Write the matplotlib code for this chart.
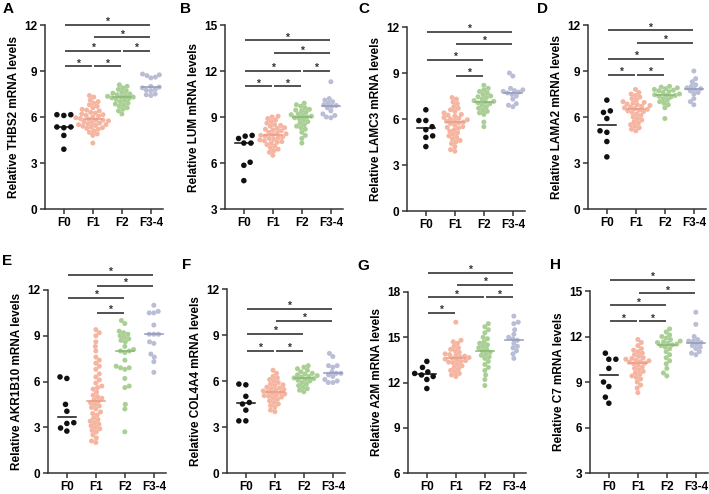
import matplotlib
matplotlib.use('Agg')
import matplotlib.pyplot as plt
import numpy as np

plt.rcParams['font.family'] = ['Liberation Sans', 'DejaVu Sans']
plt.rcParams['font.weight'] = 'bold'

groups = ['F0', 'F1', 'F2', 'F3-4']

# values (estimated)
thbs2_f0 = [6.15, 6.1, 6.15, 5.35, 5.3, 5.35, 4.8, 3.9]
thbs2_f1 = [7.4, 7.3, 7.1, 7.0, 6.9, 6.8, 6.7, 6.6, 6.5, 6.45, 6.4, 6.3, 6.25, 6.2, 6.15, 6.1, 6.05, 6.0,
            5.95, 5.9, 5.85, 5.8, 5.8, 5.75, 5.7, 5.65, 5.6, 5.55, 5.5, 5.5, 5.45, 5.4, 5.35, 5.3, 5.25,
            5.2, 5.1, 5.0, 4.9, 4.8, 4.3]
thbs2_f2 = [8.1, 8.0, 7.9, 7.8, 7.7, 7.6, 7.55, 7.5, 7.45, 7.4, 7.35, 7.3, 7.3, 7.25, 7.2, 7.15, 7.1,
            7.0, 6.9, 6.85, 6.8, 6.7, 6.6, 6.5, 6.4, 6.2]
thbs2_f34 = [8.8, 8.75, 8.7, 8.6, 8.55, 8.0, 7.95, 7.9, 7.8, 7.75, 7.7, 7.5, 7.45, 7.4]

lum_f0 = [7.8, 7.75, 7.6, 7.3, 7.3, 6.05, 5.85, 4.85]
lum_f1 = [9.05, 9.0, 8.9, 8.8, 8.7, 8.6, 8.5, 8.45, 8.4, 8.3, 8.25, 8.2, 8.15, 8.1, 8.0, 7.95, 7.9,
          7.85, 7.8, 7.75, 7.7, 7.65, 7.6, 7.55, 7.5, 7.45, 7.4, 7.35, 7.3, 7.2, 7.1, 7.0, 6.9, 6.8,
          6.7, 6.5]
lum_f2 = [9.9, 9.8, 9.7, 9.6, 9.5, 9.45, 9.4, 9.3, 9.2, 9.15, 9.1, 9.05, 9.0, 8.95, 8.9, 8.8, 8.7,
          8.6, 8.5, 8.4, 8.3, 8.2, 8.0, 7.8, 7.6, 7.3]
lum_f34 = [11.3, 10.2, 10.1, 10.0, 9.9, 9.8, 9.75, 9.7, 9.6, 9.4, 9.2, 9.1, 9.0, 8.95]

lamc3_f0 = [6.6, 5.9, 5.9, 5.5, 5.3, 4.9, 4.8, 4.2]
lamc3_f1 = [7.4, 7.3, 7.1, 7.0, 6.8, 6.7, 6.6, 6.5, 6.4, 6.3, 6.25, 6.2, 6.1, 6.05, 6.0, 5.95, 5.9,
            5.85, 5.8, 5.75, 5.7, 5.6, 5.5, 5.45, 5.4, 5.3, 5.2, 5.1, 5.0, 4.9, 4.8, 4.7, 4.6, 4.5,
            4.4, 4.2, 4.0, 3.9]
lamc3_f2 = [8.2, 8.0, 7.9, 7.8, 7.7, 7.6, 7.5, 7.45, 7.4, 7.3, 7.2, 7.15, 7.1, 7.05, 7.0, 6.9, 6.8,
            6.7, 6.6, 6.5, 6.4, 6.3, 5.8, 5.5]
lamc3_f34 = [9.0, 8.8, 8.0, 7.9, 7.85, 7.8, 7.75, 7.7, 7.6, 7.5, 7.3, 7.0, 6.9, 6.8]

lama2_f0 = [7.1, 6.4, 6.3, 5.9, 5.1, 5.0, 4.4, 3.4]
lama2_f1 = [7.8, 7.6, 7.5, 7.4, 7.3, 7.2, 7.1, 7.0, 6.95, 6.9, 6.85, 6.8, 6.75, 6.7, 6.65, 6.6, 6.55,
            6.5, 6.45, 6.4, 6.35, 6.3, 6.2, 6.1, 6.0, 5.9, 5.8, 5.7, 5.6, 5.5, 5.4, 5.3, 5.2, 5.1]
lama2_f2 = [8.0, 7.95, 7.9, 7.85, 7.8, 7.75, 7.7, 7.65, 7.6, 7.5, 7.45, 7.4, 7.4, 7.35, 7.3, 7.2,
            7.1, 7.0, 6.9, 6.8, 6.6, 5.9]
lama2_f34 = [9.0, 8.5, 8.3, 8.1, 8.0, 7.9, 7.85, 7.8, 7.7, 7.6, 7.5, 7.2, 7.0, 6.8]

akr_f0 = [6.2, 6.3, 4.5, 4.05, 3.25, 3.3, 2.75, 2.95]
akr_f1 = [9.4, 9.2, 9.0, 8.6, 8.3, 8.0, 7.6, 7.4, 7.2, 7.0, 6.8, 6.5, 6.3, 6.1, 5.9, 5.7, 5.6, 5.5,
          5.3, 5.1, 5.0, 4.9, 4.8, 4.7, 4.6, 4.5, 4.4, 4.3, 4.2, 4.0, 3.9, 3.8, 3.6, 3.5, 3.4, 3.3,
          3.2, 3.1, 3.0, 2.9, 2.8, 2.7, 2.5, 2.3, 2.1, 2.0]
akr_f2 = [10.0, 9.8, 9.3, 9.2, 9.1, 9.0, 8.9, 8.8, 8.7, 8.6, 8.3, 8.1, 8.0, 8.0, 7.9, 7.4, 7.0, 6.9,
          6.9, 6.8, 6.2, 5.7, 5.6, 4.5, 4.2, 2.7]
akr_f34 = [11.0, 10.6, 10.5, 10.5, 9.7, 9.1, 9.1, 9.1, 8.6, 8.5, 7.8, 7.6, 7.3, 6.6]

col_f0 = [5.75, 5.8, 5.0, 4.6, 4.5, 4.1, 3.4, 3.4]
col_f1 = [6.7, 6.5, 6.3, 6.2, 6.1, 6.0, 5.9, 5.8, 5.75, 5.7, 5.6, 5.55, 5.5, 5.45, 5.4, 5.35, 5.3,
          5.25, 5.2, 5.15, 5.1, 5.05, 5.0, 4.95, 4.9, 4.8, 4.7, 4.6, 4.5, 4.4, 4.3, 4.1, 4.0]
col_f2 = [7.0, 6.9, 6.8, 6.7, 6.6, 6.5, 6.45, 6.4, 6.35, 6.3, 6.25, 6.2, 6.15, 6.1, 6.05, 6.0, 5.9,
          5.8, 5.7, 5.6, 5.5, 5.4, 5.3]
col_f34 = [7.8, 7.6, 7.0, 7.0, 6.9, 6.6, 6.5, 6.5, 6.4, 6.3, 6.1, 6.0, 5.9, 5.9]

a2m_f0 = [13.4, 13.0, 12.7, 12.6, 12.5, 12.4, 12.2, 11.6]
a2m_f1 = [16.0, 14.8, 14.7, 14.6, 14.4, 14.3, 14.2, 14.1, 14.0, 13.9, 13.85, 13.8, 13.75, 13.7,
          13.65, 13.6, 13.55, 13.5, 13.45, 13.4, 13.35, 13.3, 13.2, 13.1, 13.0, 12.9, 12.8, 12.7,
          12.6, 12.5, 12.4]
a2m_f2 = [15.9, 15.7, 15.5, 15.3, 15.0, 14.9, 14.7, 14.6, 14.5, 14.4, 14.3, 14.2, 14.1, 14.0, 13.9,
          13.8, 13.7, 13.6, 13.4, 13.2, 13.0, 12.8, 12.5, 12.2, 11.8]
a2m_f34 = [16.4, 16.0, 15.9, 15.5, 15.2, 15.0, 14.9, 14.8, 14.6, 14.4, 14.3, 14.1, 13.9, 13.6]

c7_f0 = [10.9, 10.5, 10.5, 9.9, 9.0, 8.7, 8.0, 7.6]
c7_f1 = [11.8, 11.6, 11.4, 11.2, 11.1, 11.0, 10.9, 10.8, 10.7, 10.6, 10.55, 10.5, 10.45, 10.4, 10.35,
         10.3, 10.25, 10.2, 10.1, 10.0, 9.9, 9.8, 9.7, 9.6, 9.5, 9.4, 9.3, 9.2, 9.0, 8.8, 8.6, 8.3]
c7_f2 = [12.5, 12.3, 12.1, 12.0, 11.9, 11.8, 11.7, 11.65, 11.6, 11.55, 11.5, 11.45, 11.4, 11.3, 11.2,
         11.0, 10.8, 10.6, 10.4, 10.2, 9.9, 9.6, 9.4]
c7_f34 = [13.6, 12.8, 12.0, 11.8, 11.7, 11.7, 11.6, 11.5, 11.4, 11.3, 11.2, 11.0, 10.9, 10.8]

# significance bars: (group i, group j, height)
thbs2_sig = [(0, 1, 9.3), (1, 2, 9.3), (0, 2, 10.3), (2, 3, 10.3), (1, 3, 11.2), (0, 3, 12.0)]
lum_sig = [(0, 1, 11.0), (1, 2, 11.0), (0, 2, 12.0), (2, 3, 12.0), (1, 3, 13.15), (0, 3, 14.0)]
lamc3_sig = [(1, 2, 8.8), (0, 2, 9.85), (1, 3, 10.9), (0, 3, 11.7)]
lama2_sig = [(0, 1, 8.75), (1, 2, 8.75), (0, 2, 9.8), (1, 3, 10.85), (0, 3, 11.65)]
akr_sig = [(1, 2, 10.5), (0, 2, 11.5), (1, 3, 12.25), (0, 3, 13.0)]
col_sig = [(0, 1, 7.95), (1, 2, 7.95), (0, 2, 9.05), (1, 3, 9.9), (0, 3, 10.7)]
a2m_sig = [(0, 1, 16.6), (0, 2, 17.65), (2, 3, 17.65), (1, 3, 18.45), (0, 3, 19.25)]
c7_sig = [(0, 1, 13.0), (1, 2, 13.0), (0, 2, 14.05), (1, 3, 14.85), (0, 3, 15.75)]

panels = [
    ('A', 'THBS2', [thbs2_f0, thbs2_f1, thbs2_f2, thbs2_f34], (0, 12), thbs2_sig),
    ('B', 'LUM', [lum_f0, lum_f1, lum_f2, lum_f34], (3, 15), lum_sig),
    ('C', 'LAMC3', [lamc3_f0, lamc3_f1, lamc3_f2, lamc3_f34], (0, 12), lamc3_sig),
    ('D', 'LAMA2', [lama2_f0, lama2_f1, lama2_f2, lama2_f34], (0, 12), lama2_sig),
    ('E', 'AKR1B10', [akr_f0, akr_f1, akr_f2, akr_f34], (0, 12), akr_sig),
    ('F', 'COL4A4', [col_f0, col_f1, col_f2, col_f34], (0, 12), col_sig),
    ('G', 'A2M', [a2m_f0, a2m_f1, a2m_f2, a2m_f34], (6, 18), a2m_sig),
    ('H', 'C7', [c7_f0, c7_f1, c7_f2, c7_f34], (3, 15), c7_sig),
]

colors = ['#111111', '#f5b5a1', '#a9cf94', '#b9bdd6']
line_colors = ['#111111', '#e89c86', '#86b870', '#9499b8']

W, H = 709, 494
# spine x, top y, bottom y (pixels)
boxes = [(45, 25, 209), (225, 25, 209), (407, 27, 211), (588, 25, 209),
         (48, 290, 473), (227, 289, 473), (408, 292, 473), (590, 291, 473)]
label_pos = [(3, 2), (180, 2), (358, 2), (537, 2), (2, 254), (182, 258), (357, 259), (550, 258)]

XMIN, XMAX = -0.65, 3.42
XPX = 29.0  # pixels per group


def swarm(vals, ypp, d):
    ys = np.asarray(vals, float) * ypp
    order = np.argsort(ys, kind='stable')
    xs = np.zeros(len(ys))
    placed = []
    flip = 1
    for i in order:
        y = ys[i]
        near = [(xs[j], ys[j]) for j in placed if abs(ys[j] - y) < d]
        cands = [0.0]
        for xj, yj in near:
            dx = np.sqrt(d * d - (y - yj) ** 2)
            cands += [xj + dx, xj - dx]
        flip = -flip
        cands.sort(key=lambda c: (round(abs(c), 3), flip * c))
        for c in cands:
            if all((c - xj) ** 2 + (y - yj) ** 2 >= d * d - 1e-6 for xj, yj in near):
                xs[i] = c
                break
        placed.append(i)
    return xs


fig = plt.figure(figsize=(W / 100, H / 100), dpi=100)

for k, (letter, gene, data, ylim, sig) in enumerate(panels):
    x0, ytop, ybot = boxes[k]
    wpx = (XMAX - XMIN) * XPX
    ax = fig.add_axes([x0 / W, 1 - ybot / H, wpx / W, (ybot - ytop) / H])
    ypp = (ybot - ytop) / (ylim[1] - ylim[0])

    for g, vals in enumerate(data):
        d = 7.0 if g == 0 else 4.6
        offs = swarm(vals, ypp, d) / XPX
        ax.scatter(g + offs, vals, s=16 if g == 0 else 13, color=colors[g],
                   edgecolors='none', zorder=3, clip_on=False)
        med = np.median(vals)
        ax.plot([g - 0.3, g + 0.3], [med, med], color=line_colors[g], lw=1.1, zorder=4)

    for i, j, h in sig:
        ax.plot([i + 0.03, j - 0.03], [h, h], color='#333333', lw=1.2,
                clip_on=False, zorder=5, solid_capstyle='butt')
        ax.annotate('*', ((i + j) / 2, h), xytext=(0, -1.5), textcoords='offset points',
                    ha='center', va='bottom', fontsize=7.5, color='#333333',
                    annotation_clip=False)

    ax.set_xlim(XMIN, XMAX)
    ax.set_ylim(*ylim)
    ax.set_yticks(np.arange(ylim[0], ylim[1] + 0.1, 3))
    ax.set_xticks(range(4))
    ax.set_xticklabels(groups)
    ax.tick_params(labelsize=8.5, width=1.1, length=3.5, color='#333333', pad=2)
    for lab in ax.get_xticklabels() + ax.get_yticklabels():
        lab.set_fontweight('bold')
    ax.spines['top'].set_visible(False)
    ax.spines['right'].set_visible(False)
    for s in ['left', 'bottom']:
        ax.spines[s].set_linewidth(1.1)
        ax.spines[s].set_color('#333333')
    ax.patch.set_alpha(0)
    ax.set_ylabel('Relative %s mRNA levels' % gene, fontsize=8.5, fontweight='bold', labelpad=3)

    lx, ly = label_pos[k]
    fig.text(lx / W, 1 - ly / H, letter, fontsize=11, fontweight='bold', va='top', ha='left')

plt.savefig('out.png', dpi=100)
